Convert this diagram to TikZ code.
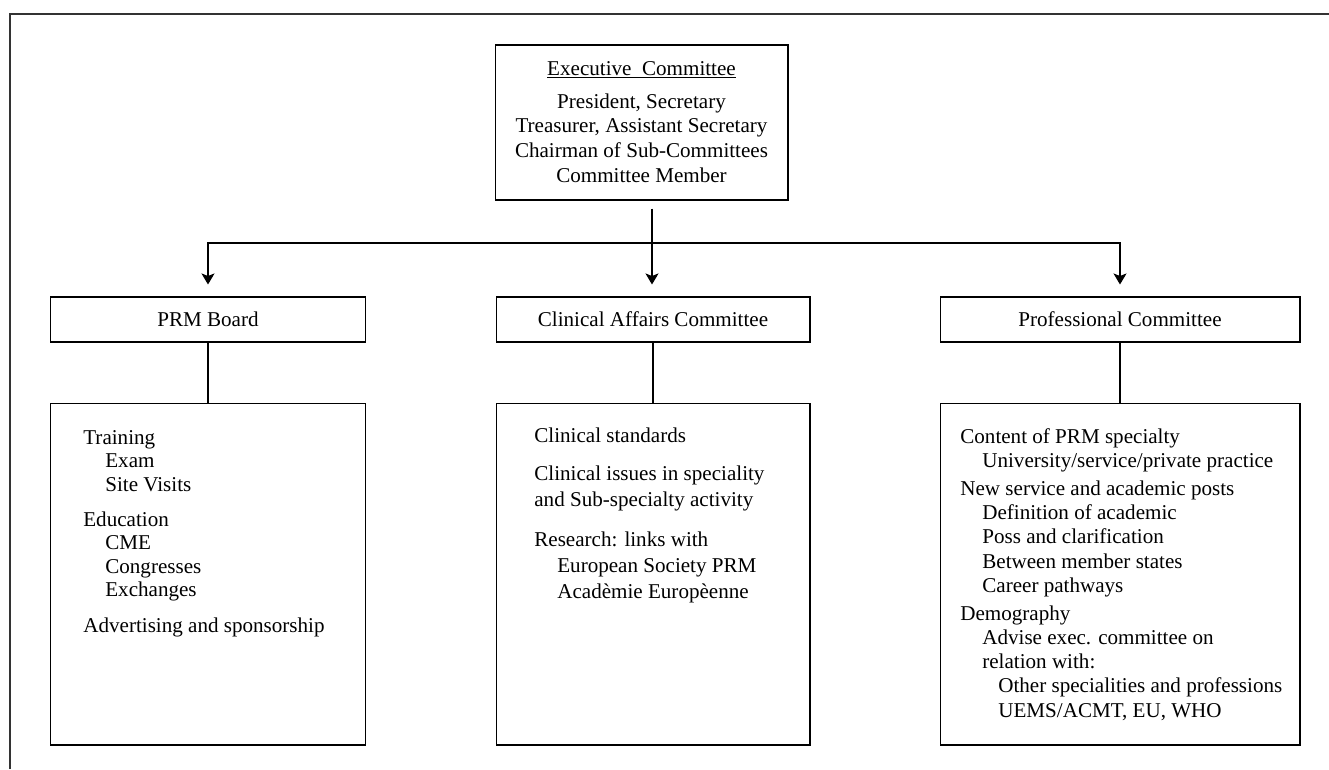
\documentclass[tikz,border=0pt]{standalone}
\usepackage{fontspec}
\setmainfont{Liberation Serif}
\usepackage{tikz}
\usetikzlibrary{arrows.meta, calc, positioning}
\tikzset{
  box/.style={draw, line width=0.6pt, inner sep=0pt},
  head/.style={box, minimum height=0.9cm},
  body/.style={box, minimum height=6.84cm},
  list/.style={anchor=base west, align=left, inner sep=0pt},
  link/.style={line width=0.6pt},
  flow/.style={link, -{Stealth[length=2.2mm, width=2.6mm, inset=0.5mm]},
               shorten >=0.24cm},
}
\newcommand{\ind}[1]{\hspace*{#1}}

\begin{document}
\begin{tikzpicture}[x=0.02cm, y=-0.02cm, font=\fontsize{12}{14}\selectfont]
  \useasboundingbox (0,0) rectangle (1329,769);
  % outer frame (left and top only)
  \draw[line width=1pt, black!80] (10,769) -- (10,14) -- (1329,14);
  % executive committee (text placed by its last baseline)
  \node[box, minimum width=5.86cm, minimum height=3.1cm] (exec) at (641.5,122.5) {};
  \node[anchor=base, align=center, inner sep=0pt,
        font=\fontsize{12}{14}\selectfont] (execText) at (641.5,182)
    {\underline{Executive\ \ Committee}\\[0.17cm]
     President, Secretary\\
     Treasurer, Assistant Secretary\\
     Chairman of Sub-Committees\\
     Committee Member};
  % committee headers
  \node[head, minimum width=6.32cm] (prmHead)  at (208,319.5) {PRM Board};
  \node[head, minimum width=6.28cm] (clinHead) at (653,319.5) {Clinical Affairs Committee};
  \node[head, minimum width=7.2cm]  (profHead) at (1120,319.5) {Professional Committee};
  % remits
  \node[body, minimum width=6.32cm] (prmBody)  at (208,574) {};
  \node[body, minimum width=6.28cm] (clinBody) at (653,574) {};
  \node[body, minimum width=7.2cm]  (profBody) at (1120,574) {};
  \node[list, font=\fontsize{12}{13.3}\selectfont] (prmList) at (83,632)
    {Training\\
     \ind{0.44cm}Exam\\
     \ind{0.44cm}Site Visits\\[0.24cm]
     Education\\
     \ind{0.44cm}CME\\
     \ind{0.44cm}Congresses\\
     \ind{0.44cm}Exchanges\\[0.24cm]
     Advertising and sponsorship};
  \node[list, font=\fontsize{12}{14.7}\selectfont] (clinList) at (534,598)
    {Clinical standards\\[0.24cm]
     Clinical issues in speciality\\
     and Sub-specialty activity\\[0.28cm]
     Research: links with\\
     \ind{0.46cm}European Society PRM\\
     \ind{0.46cm}Acadèmie Europèenne};
  \node[list, font=\fontsize{12}{13.8}\selectfont] (profList) at (960,717)
    {Content of PRM specialty\\
     \ind{0.44cm}University/service/private practice\\[0.07cm]
     New service and academic posts\\
     \ind{0.44cm}Definition of academic\\
     \ind{0.44cm}Poss and clarification\\
     \ind{0.44cm}Between member states\\
     \ind{0.44cm}Career pathways\\[0.07cm]
     Demography\\
     \ind{0.44cm}Advise exec. committee on\\
     \ind{0.44cm}relation with:\\
     \ind{0.76cm}Other specialities and professions\\
     \ind{0.76cm}UEMS/ACMT, EU, WHO};
  % connectors
  \coordinate (split) at (652,243);
  \draw[link] (split |- exec.south) ++(0,8) -- (split);
  \draw[flow] (split) -- (split |- clinHead.north);
  \draw[flow] (split) -| (prmHead);
  \draw[flow] (split) -| (profHead);
  \draw[link] (prmHead) -- (prmBody);
  \draw[link] (clinHead) -- (clinBody);
  \draw[link] (profHead) -- (profBody);
\end{tikzpicture}
\end{document}
